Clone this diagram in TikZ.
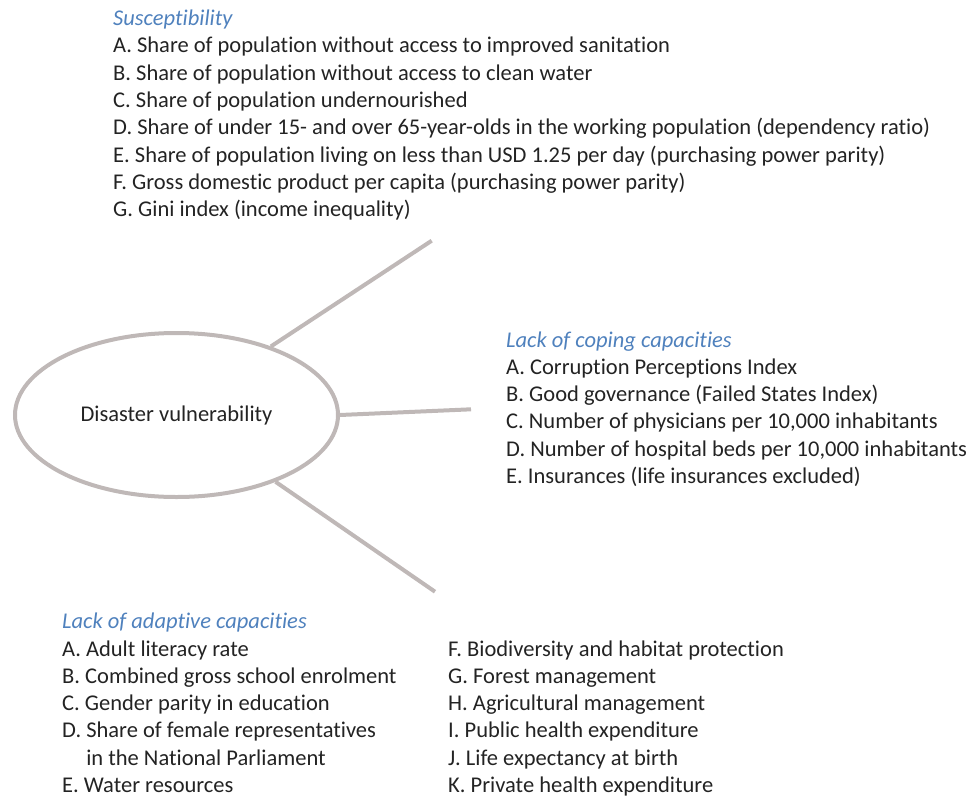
\documentclass[tikz,border=0pt]{standalone}
\usepackage{fontspec}
\setmainfont{Carlito}[Ligatures=NoCommon]
\usepackage{tikz}
\usetikzlibrary{shapes.geometric}
\definecolor{spokegray}{RGB}{191,184,183}
\definecolor{headblue}{RGB}{79,129,189}
\definecolor{ink}{RGB}{35,35,35}
\tikzset{
	list/.style={anchor=base west,align=left,inner sep=0pt,text=ink,font=\fontsize{22.5}{27.3}\selectfont},
	spoke/.style={draw=spokegray,line width=4pt},
	hub/.style={ellipse,draw=spokegray,line width=4pt,minimum width=323pt,minimum height=164pt,inner sep=0pt,text=ink,font=\fontsize{22.5}{27.3}\selectfont}
}
\newcommand{\head}[1]{{\color{headblue}\itshape #1}}

\begin{document}
\begin{tikzpicture}[x=1pt,y=-1pt]
	\useasboundingbox (0,0) rectangle (974,795);

	\node [hub] (vul) at (176.5,415) {Disaster vulnerability};

	% lists sit on the baseline of their last line
	\node [list] (sus) at (113,216.6) {\head{Susceptibility}\\
		A. Share of population without access to improved sanitation\\
		B. Share of population without access to clean water\\
		C. Share of population undernourished\\
		D. Share of under 15- and over 65-year-olds in the working population (dependency ratio)\\
		E. Share of population living on less than USD 1.25 per day (purchasing power parity)\\
		F. Gross domestic product per capita (purchasing power parity)\\
		G. Gini index (income inequality)};

	\node [list] (cop) at (506,483.5) {\head{Lack of coping capacities}\\
		A. Corruption Perceptions Index\\
		B. Good governance (Failed States Index)\\
		C. Number of physicians per 10,000 inhabitants\\
		D. Number of hospital beds per 10,000 inhabitants\\
		E. Insurances (life insurances excluded)};

	\node [list] (ada) at (62,792.5) {\head{Lack of adaptive capacities}\\
		A. Adult literacy rate\\
		B. Combined gross school enrolment\\
		C. Gender parity in education\\
		D. Share of female representatives\\
		\hphantom{D.}\ in the National Parliament\\
		E. Water resources};
	\node [list] (adb) at (448,792.5) {F. Biodiversity and habitat protection\\
		G. Forest management\\
		H. Agricultural management\\
		I. Public health expenditure\\
		J. Life expectancy at birth\\
		K. Private health expenditure};

	\coordinate (susend) at (431.7,240.7);
	\coordinate (copend) at (471,409.3);
	\coordinate (adaend) at (435,591.7);

	\draw [spoke] (vul.36) -- (susend);
	\draw [spoke] (vul.east) -- (copend);
	\draw [spoke] (vul.-34) -- (adaend);
\end{tikzpicture}
\end{document}
